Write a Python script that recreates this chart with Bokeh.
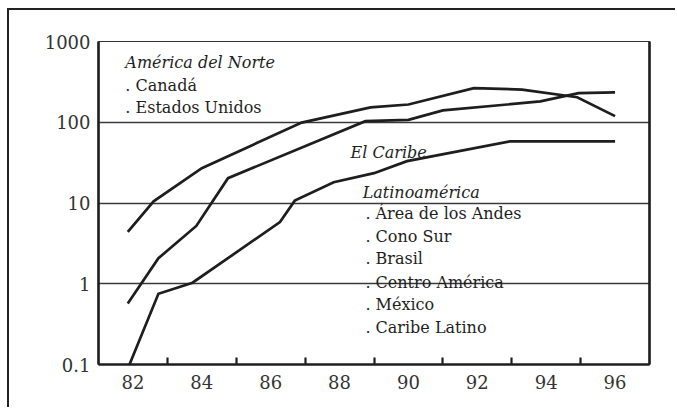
from bokeh.plotting import figure
from bokeh.models import FixedTicker, LinearAxis, Label, Range1d
from bokeh.embed import file_html
from bokeh.resources import INLINE

# ---- data ----
years_norte = [81.85, 82.6, 84.0, 86.9, 88.9, 90.0, 91.9, 93.3, 94.9, 96.0]
vals_norte = [4.4, 10.5, 27, 99, 153, 166, 264, 254, 204, 119]

years_caribe = [81.85, 82.74, 83.84, 84.76, 88.75, 90.0, 91.0, 93.83, 94.94, 96.0]
vals_caribe = [0.57, 2.07, 5.2, 20.3, 103, 107, 140, 181, 229, 235]

years_latam = [81.9, 82.74, 83.73, 86.27, 86.7, 87.83, 89.0, 89.96, 92.95, 96.0]
vals_latam = [0.1, 0.75, 1.03, 5.8, 10.7, 18.1, 23.4, 33, 58, 58]

x_labels = [82, 84, 86, 88, 90, 92, 94, 96]
x_minor = [83, 85, 87, 89, 91, 93, 95]
y_ticks = [0.1, 1, 10, 100, 1000]
y_labels = ["0.1", "1", "10", "100", "1000"]
grid_ticks = [1, 10, 100]

headings = ["América del Norte", "El Caribe", "Latinoamérica"]
items = [". Canadá", ". Estados Unidos",
         ". Área de los Andes", ". Cono Sur", ". Brasil",
         ". Centro América", ". México", ". Caribe Latino"]

FONT = "DejaVu Serif"
INK = "#1e1e1e"

p = figure(width=668, height=399, y_axis_type="log",
           x_range=Range1d(81, 97), y_range=Range1d(0.1, 1000),
           output_backend="svg", toolbar_location=None,
           min_border_left=89, min_border_top=31,
           min_border_right=28, min_border_bottom=45)
p.margin = (8, 0, 0, 7)
p.styles = {"border-top": "2px solid #222", "border-left": "2px solid #222"}

p.background_fill_color = "white"
p.border_fill_color = "white"
p.outline_line_color = "#333"
p.outline_line_width = 1.2

# grid
p.xgrid.visible = False
p.ygrid.ticker = FixedTicker(ticks=grid_ticks)
p.ygrid.grid_line_color = "#3a3a3a"
p.ygrid.grid_line_width = 1.3

# y axis
ya = p.yaxis[0]
ya.ticker = FixedTicker(ticks=y_ticks)
ya.major_label_overrides = {t: s for t, s in zip(y_ticks, y_labels)}
ya.major_tick_out = 0
ya.major_tick_in = 0
ya.minor_tick_out = 0
ya.minor_tick_in = 0
ya.axis_line_width = 2.6
ya.axis_line_color = INK
ya.major_label_text_font = FONT
ya.major_label_text_font_size = "18px"
ya.major_label_text_color = "#333"
ya.major_label_standoff = 8

# x axis
xa = p.xaxis[0]
xa.ticker = FixedTicker(ticks=x_labels, minor_ticks=x_minor)
xa.major_tick_out = 0
xa.major_tick_in = 0
xa.minor_tick_out = 0
xa.minor_tick_in = 7
xa.minor_tick_line_width = 2.2
xa.minor_tick_line_color = INK
xa.axis_line_width = 2.6
xa.axis_line_color = INK
xa.major_label_text_font = FONT
xa.major_label_text_font_size = "18px"
xa.major_label_text_color = "#333"
xa.major_label_standoff = 10

# right edge (thick)
ra = LinearAxis(ticker=FixedTicker(ticks=[]), axis_line_width=2.6,
                axis_line_color=INK, major_tick_in=0, major_tick_out=0,
                minor_tick_in=0, minor_tick_out=0,
                major_label_text_font_size="0px")
p.add_layout(ra, "right")

# series
for xs, ys in [(years_norte, vals_norte), (years_caribe, vals_caribe),
               (years_latam, vals_latam)]:
    p.line(xs, ys, line_color=INK, line_width=2.7, line_join="miter")

# annotations
head_pos = [(81.78, 550), (88.32, 42.6), (88.67, 13.6)]
item_pos = [(81.78, 285), (81.78, 152),
            (88.75, 7.35), (88.75, 3.85), (88.75, 2.04),
            (88.75, 1.045), (88.75, 0.553), (88.75, 0.29)]
for txt, (x, y) in zip(headings, head_pos):
    p.add_layout(Label(x=x, y=y, text=txt, text_font=FONT,
                       text_font_style="italic", text_font_size="16px",
                       text_color=INK, text_baseline="alphabetic"))
for txt, (x, y) in zip(items, item_pos):
    p.add_layout(Label(x=x, y=y, text=txt, text_font=FONT,
                       text_font_size="16px",
                       text_color=INK, text_baseline="alphabetic"))

open("out.html", "w").write(file_html(p, INLINE))
